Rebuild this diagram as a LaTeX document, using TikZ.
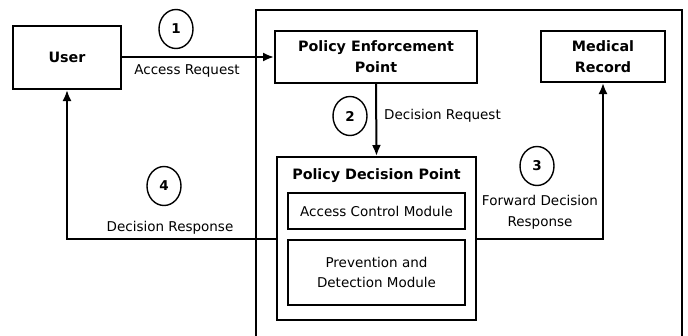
\documentclass[tikz,border=0pt]{standalone}
\usepackage{fontspec}
\setmainfont{DejaVu Sans}
\usetikzlibrary{arrows.meta,positioning,shapes.geometric}
\begin{document}
\begin{tikzpicture}[x=1pt,y=-1pt,
  box/.style={draw, line width=2pt, inner sep=0pt, align=center,
    font=\fontsize{14.3}{21}\selectfont\bfseries},
  modbox/.style={draw, line width=1.8pt, inner sep=0pt, align=center,
    font=\fontsize{13.5}{20}\selectfont},
  num/.style={ellipse, draw, line width=1.4pt, inner sep=0pt,
    minimum width=34pt, minimum height=39pt, font=\fontsize{13.5}{15}\selectfont\bfseries},
  lbl/.style={font=\fontsize{13.5}{21}\selectfont, align=center, inner sep=0pt},
  flow/.style={line width=2pt, -{Latex[length=11pt,width=9pt]}}]
  \useasboundingbox (0,0) rectangle (688,335);

  % Kasten
  \draw[line width=2pt] (256,342) -- (256,10) -- (682,10) -- (682,342);

  % Nodos
  \node[box, minimum width=108pt, minimum height=63pt] (user) at (67,57.5) {User};
  \node[box, minimum width=202pt, minimum height=52pt] (pep) at (376,57) {Policy Enforcement\\Point};
  \node[box, minimum width=124pt, minimum height=51pt] (med) at (603,56.5) {Medical\\Record};
  \node[box, minimum width=199pt, minimum height=163pt] (pdp) at (376.5,238.5) {};
  \node[lbl, font=\fontsize{14.3}{15}\selectfont\bfseries] (pdptitle) at (376.5,176) {Policy Decision Point};
  \node[modbox, minimum width=177pt, minimum height=36pt] (acm) at (376.5,211) {Access Control Module};
  \node[modbox, minimum width=177pt, minimum height=65pt] (pdm) at (376.5,272.5) {Prevention and\\Detection Module};

  \node[num] (n1) at (176,29) {1};
  \node[num] (n2) at (350,116) {2};
  \node[num] (n3) at (537,166) {3};
  \node[num] (n4) at (164,186) {4};

  \node[lbl] (l1) at (187,71) {Access Request};
  \node[lbl, anchor=west] (l2) at (384,116) {Decision Request};
  \node[lbl] (l3) at (540,212) {Forward Decision\\Response};
  \node[lbl] (l4) at (170,228) {Decision Response};

  \draw[flow] (user.east |- pep.west) -- (pep.west);
  \draw[flow] (pep.south) -- (pdp.north);
  \draw[flow] (pdp.east) -| (med.south);
  \draw[flow] (pdp.west) -| (user.south);
\end{tikzpicture}
\end{document}
